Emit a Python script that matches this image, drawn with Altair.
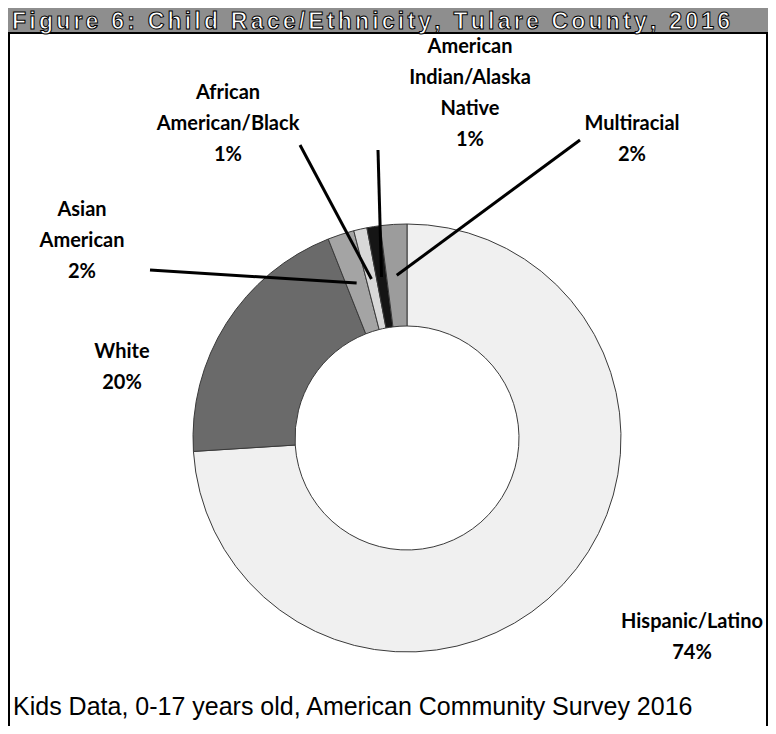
import math
import altair as alt
import pandas as pd

# ---------------- data ----------------
categories = ["Hispanic/Latino", "White", "Asian American",
              "African American/Black", "American Indian/Alaska Native", "Multiracial"]
percents = [74, 20, 2, 1, 1, 2]
label_lines = [["Hispanic/Latino", "74%"],
               ["White", "20%"],
               ["Asian", "American", "2%"],
               ["African", "American/Black", "1%"],
               ["American", "Indian/Alaska", "Native", "1%"],
               ["Multiracial", "2%"]]
title_text = "Figure 6: Child Race/Ethnicity, Tulare County, 2016"
footer_text = "Kids Data, 0-17 years old, American Community Survey 2016"

# ---------------- style / layout ----------------
fills = ["#f0f0f0", "#6a6a6a", "#a4a4a4", "#d8d8d8", "#151515", "#9c9c9c"]
PAGE_W, PAGE_H, M = 776, 734, 8
W, H = PAGE_W - 2 * M, PAGE_H - 2 * M
CX, CY = 407, 438          # donut centre (page px)
R_OUT, R_IN = 214, 112
R_LEAD = 163
label_pos = [(692, 622), (122, 352), (82, 210), (228, 93), (470, 47), (632, 124)]
LINE_GAP = 31
leader_start = [None, None, (150, 270), (300, 145), (378, 150), (580, 140)]
TITLE_X0, TITLE_X1, TITLE_BASE, TITLE_SIZE = 12, 730, 29, 23
BANNER_BOTTOM = 33
# Arial-bold advance widths (per 1000 em) used to letter-space the title
ADV = {" ": 278, "F": 611, "i": 278, "g": 611, "u": 611, "r": 389, "e": 556, "6": 556,
       ":": 333, "C": 722, "h": 611, "l": 278, "d": 611, "R": 722, "a": 556, "c": 556,
       "/": 278, "E": 667, "t": 333, "n": 611, "y": 556, ",": 278, "T": 611, "o": 611,
       "2": 556, "0": 556, "1": 556}

xs = alt.Scale(domain=[M, M + W])
ys = alt.Scale(domain=[M, M + H], reverse=True)

slices = pd.DataFrame({"cat": categories, "pct": percents, "order": list(range(len(categories)))})

rows = []
for (cx, cy), lines in zip(label_pos, label_lines):
    for i, t in enumerate(lines):
        rows.append({"t": t, "x": cx, "y": cy + i * LINE_GAP})
labels = pd.DataFrame(rows)

lead = []
cum = 0
total = sum(percents)
for p, st in zip(percents, leader_start):
    mid = (cum + p / 2) / total * 2 * math.pi
    cum += p
    if st is None:
        continue
    ex = CX + R_LEAD * math.sin(mid)
    ey = CY - R_LEAD * math.cos(mid)
    lead.append({"x": st[0], "y": st[1], "x2": ex, "y2": ey})
leads = pd.DataFrame(lead)

# letter-spaced title
adv = [ADV.get(ch, 556) * TITLE_SIZE / 1000 for ch in title_text]
extra = (TITLE_X1 - TITLE_X0 - sum(adv)) / (len(title_text) - 1)
trow, x = [], TITLE_X0
for ch, a in zip(title_text, adv):
    if ch != " ":
        trow.append({"t": ch, "x": x, "y": TITLE_BASE})
    x += a + extra
title_df = pd.DataFrame(trow)

donut = alt.Chart(slices).mark_arc(stroke="#3a3a3a", strokeWidth=1).encode(
    theta=alt.Theta("pct:Q", stack=True),
    order=alt.Order("order:Q", sort="ascending"),
    color=alt.Color("cat:N", scale=alt.Scale(domain=categories, range=fills), legend=None),
    radius=alt.value(R_OUT), radius2=alt.value(R_IN),
    x=alt.value(CX - M), y=alt.value(CY - M),
)

lines_layer = alt.Chart(leads).mark_rule(color="black", strokeWidth=3).encode(
    x=alt.X("x:Q", scale=xs, axis=None), y=alt.Y("y:Q", scale=ys, axis=None),
    x2="x2:Q", y2="y2:Q")

text_layer = alt.Chart(labels).mark_text(
    font="Lato", fontWeight="bold", fontSize=20, align="center", baseline="middle", color="black"
).encode(x=alt.X("x:Q", scale=xs, axis=None), y=alt.Y("y:Q", scale=ys, axis=None), text="t:N")

banner = alt.Chart(pd.DataFrame({"x": [M], "x2": [M + W], "y": [M], "y2": [BANNER_BOTTOM]})).mark_rect(
    color="#8e8e8e").encode(x=alt.X("x:Q", scale=xs, axis=None), x2="x2:Q",
                            y=alt.Y("y:Q", scale=ys, axis=None), y2="y2:Q")

border = alt.Chart(pd.DataFrame({"x": [9], "x2": [767], "y": [BANNER_BOTTOM], "y2": [760]})).mark_rect(
    fill=None, fillOpacity=0, stroke="black", strokeWidth=2).encode(
    x=alt.X("x:Q", scale=xs, axis=None), x2="x2:Q",
    y=alt.Y("y:Q", scale=ys, axis=None), y2="y2:Q")

title_layer = alt.Chart(title_df).mark_text(
    font="Liberation Sans", fontWeight="bold", fontSize=TITLE_SIZE, align="left", baseline="alphabetic",
    color="white", stroke="black", strokeWidth=1).encode(
    x=alt.X("x:Q", scale=xs, axis=None), y=alt.Y("y:Q", scale=ys, axis=None), text="t:N")

footer_layer = alt.Chart(pd.DataFrame({"t": [footer_text], "x": [13], "y": [707]})).mark_text(
    font="Liberation Sans", fontSize=25, align="left", baseline="middle", color="black").encode(
    x=alt.X("x:Q", scale=xs, axis=None), y=alt.Y("y:Q", scale=ys, axis=None), text="t:N")

chart = alt.layer(banner, border, donut, lines_layer, text_layer, title_layer, footer_layer).properties(
    width=W, height=H, padding=0, autosize="none"
).configure_view(stroke=None)

chart.save("out.html", embed_options={"renderer": "svg", "actions": False})
